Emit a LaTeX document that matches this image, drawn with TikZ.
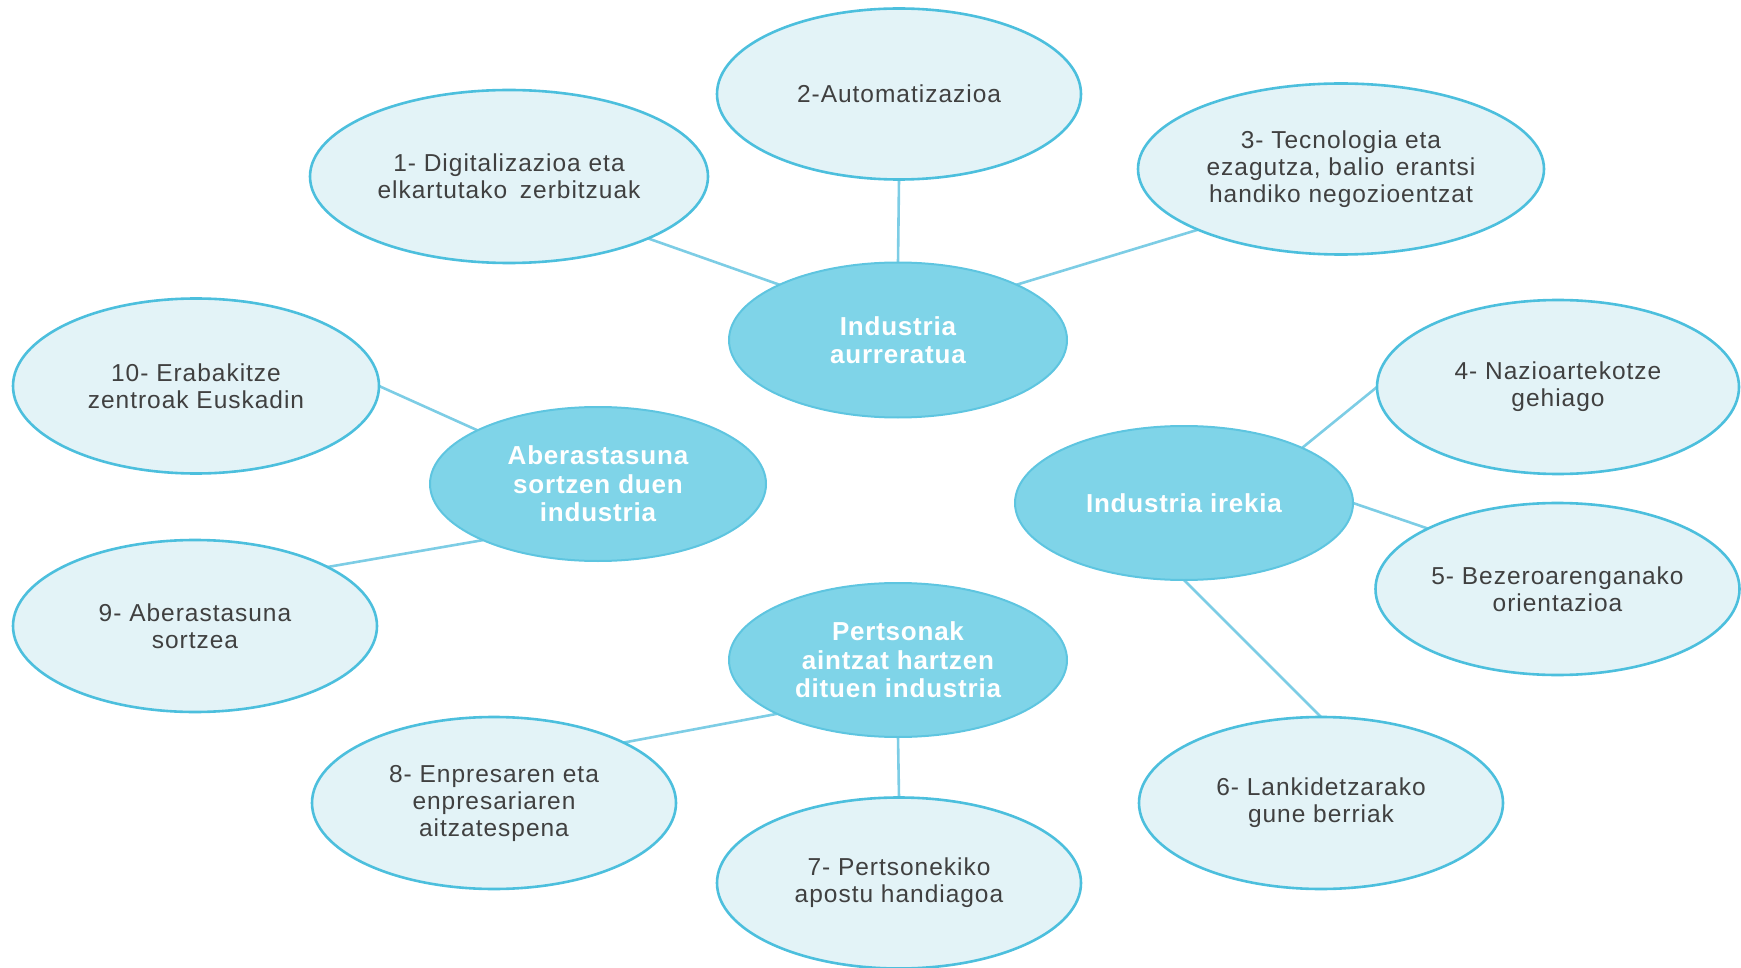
\documentclass[tikz,border=0pt]{standalone}
\usepackage{fontspec}
\setmainfont{Liberation Sans}
\newfontfamily\leaffont{Liberation Sans}[LetterSpace=4]
\newfontfamily\hubfont{Liberation Sans}[LetterSpace=3]
\usetikzlibrary{shapes.geometric,backgrounds}
\definecolor{outerfill}{HTML}{E3F3F7}
\definecolor{outerline}{HTML}{4CBFDD}
\definecolor{hubfill}{HTML}{7FD4E8}
\definecolor{hubline}{HTML}{5EC5E0}
\definecolor{linkcol}{HTML}{7DCDE5}
\definecolor{txtgrey}{HTML}{404040}
\tikzset{
  leaf/.style={ellipse, draw=outerline, line width=2.6pt, fill=outerfill, inner sep=0pt, outer sep=0pt,
    align=center, text=txtgrey, font=\leaffont\fontsize{24.5}{27}\selectfont},
  hub/.style={ellipse, draw=hubline, line width=2pt, fill=hubfill, inner sep=0pt, outer sep=0pt,
    align=center, text=white, font=\hubfont\fontsize{26}{28.5}\selectfont\bfseries},
  link/.style={draw=linkcol, line width=2.6pt}
}
\begin{document}
\begin{tikzpicture}[x=1pt,y=1pt]
\useasboundingbox (0,0) rectangle (1741,-968);
% hubs
\node[hub, minimum width=338pt, minimum height=155pt] (C) at (898,-340) {Industria\\aurreratua};
\node[hub, minimum width=336pt, minimum height=154pt] (A) at (598,-484) {Aberastasuna\\sortzen duen\\industria};
\node[hub, minimum width=338pt, minimum height=154pt] (I) at (1184,-503) {Industria irekia};
\node[hub, minimum width=338pt, minimum height=154pt] (P) at (898,-660) {Pertsonak\\aintzat hartzen\\dituen industria};
% leaves
\node[leaf, minimum width=398pt, minimum height=173pt] (n1) at (509,-176.5) {1- Digitalizazioa eta\\elkartutako\hspace{5pt} zerbitzuak};
\node[leaf, minimum width=364pt, minimum height=171pt] (n2) at (899,-94) {2-Automatizazioa};
\node[leaf, minimum width=406pt, minimum height=171pt] (n3) at (1341,-169) {3- Tecnologia eta\\ezagutza, balio\hspace{4pt} erantsi\\handiko negozioentzat};
\node[leaf, minimum width=362pt, minimum height=174pt] (n4) at (1558,-387) {4- Nazioartekotze\\gehiago};
\node[leaf, minimum width=364pt, minimum height=172pt] (n5) at (1557.5,-589) {5- Bezeroarenganako\\orientazioa};
\node[leaf, minimum width=364pt, minimum height=172pt] (n6) at (1321,-803) {6- Lankidetzarako\\gune berriak};
\node[leaf, minimum width=364pt, minimum height=171pt] (n7) at (899,-883) {7- Pertsonekiko\\apostu handiagoa};
\node[leaf, minimum width=364pt, minimum height=172pt] (n8) at (494,-803) {8- Enpresaren eta\\enpresariaren\\aitzatespena};
\node[leaf, minimum width=364pt, minimum height=172pt] (n9) at (195,-626) {9- Aberastasuna\\sortzea};
\node[leaf, minimum width=366pt, minimum height=175pt] (n10) at (196,-386) {10- Erabakitze\\zentroak Euskadin};
% connectors
\begin{scope}[on background layer]
\draw[link] (n1.-24) -- (C.155);
\draw[link] (n2.south) -- (C.north);
\draw[link] (n3.203) -- (C.25);
\draw[link] (I.25) -- (n4.west);
\draw[link] (I.east) -- (n5.155);
\draw[link] (I.south) -- (n6.north);
\draw[link] (n10.east) -- (A.156);
\draw[link] (n9.24) -- (A.206);
\draw[link] (n8.25) -- (P.204);
\draw[link] (P.south) -- (n7.north);
\end{scope}
\end{tikzpicture}
\end{document}
